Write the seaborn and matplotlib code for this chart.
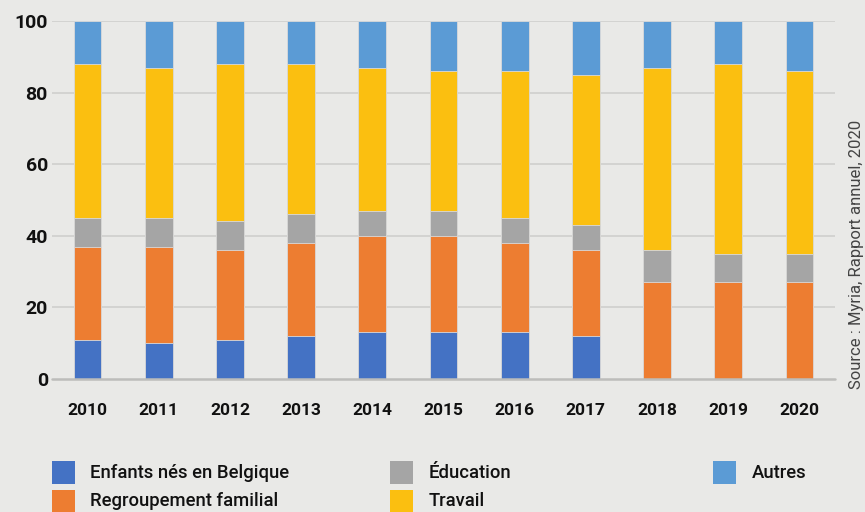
import matplotlib
matplotlib.use("Agg")
import matplotlib.pyplot as plt
import seaborn as sns
import numpy as np
import pandas as pd
from matplotlib.patches import Rectangle

years = ["2010", "2011", "2012", "2013", "2014", "2015", "2016", "2017", "2018", "2019", "2020"]
enfants = [11, 10, 11, 12, 13, 13, 13, 12, 0, 0, 0]
regroupement = [26, 27, 25, 26, 27, 27, 25, 24, 27, 27, 27]
education = [8, 8, 8, 8, 7, 7, 7, 7, 9, 8, 8]
travail = [43, 42, 44, 42, 40, 39, 41, 42, 51, 53, 51]
autres = [12, 13, 12, 12, 13, 14, 14, 15, 13, 12, 14]
series_names = ["Enfants nés en Belgique", "Regroupement familial", "Éducation", "Travail", "Autres"]
y_ticks = [0, 20, 40, 60, 80, 100]
source_text = "Source : Myria, Rapport annuel, 2020"

colors = ["#4472C4", "#ED7D31", "#A5A5A5", "#FBBF10", "#5B9BD5"]
bg = "#E9E9E7"

sns.set_theme(style="white")
plt.rcParams["font.family"] = ["Roboto", "DejaVu Sans"]

df = pd.DataFrame({"year": years, "e": enfants, "r": regroupement,
                   "ed": education, "t": travail, "a": autres})
cols = ["e", "r", "ed", "t", "a"]
cum = df[cols].cumsum(axis=1)

W, H = 865, 512
fig = plt.figure(figsize=(W / 100, H / 100), dpi=100, facecolor=bg)
ax = fig.add_axes([52 / W, 1 - 379 / H, (835 - 52) / W, (379 - 21) / H], facecolor=bg)

for i in reversed(range(len(cols))):
    d = pd.DataFrame({"year": years, "val": cum[cols[i]].values})
    sns.barplot(data=d, x="year", y="val", color=colors[i], width=0.39,
                saturation=1, edgecolor="#DADADA", linewidth=0.6, ax=ax, zorder=3)

ax.set_xlim(-0.5, 10.5)
ax.set_ylim(0, 100)
ax.set_yticks(y_ticks)
ax.set_yticklabels([str(v) for v in y_ticks])
ax.set_xlabel("")
ax.set_ylabel("")
for s in ax.spines.values():
    s.set_visible(False)
ax.grid(False)
for v in y_ticks[1:]:
    ax.axhline(v, color="#CDCDCB", lw=1.1, zorder=1)
ax.axhline(0, color="#BDBDBB", lw=1.8, zorder=4, clip_on=False)
ax.tick_params(axis="both", length=0, colors="#111111")
ax.tick_params(axis="x", pad=17, labelsize=12.5)
ax.tick_params(axis="y", pad=3, labelsize=14)
for lab in ax.get_xticklabels() + ax.get_yticklabels():
    lab.set_fontweight("bold")

fig.text(857 / W, 1 - 254 / H, source_text, rotation=90, ha="center", va="center",
         fontsize=12, color="#444444", fontweight="normal")

# legend laid out as in the reference (3 columns, 2 rows)
leg_pos = [(52, 472.5), (52, 501.5), (390, 472.5), (390, 501.5), (713, 472.5)]
for i, (lx, ly) in enumerate(leg_pos):
    fig.patches.append(Rectangle((lx / W, 1 - (ly + 11.5) / H), 23 / W, 23 / H,
                                 transform=fig.transFigure, facecolor=colors[i],
                                 edgecolor="none"))
    fig.text((lx + 38.5) / W, 1 - ly / H, series_names[i], ha="left", va="center",
             fontsize=13.3, color="#111111", fontweight="medium")

fig.savefig("out.png", dpi=100, facecolor=bg)
